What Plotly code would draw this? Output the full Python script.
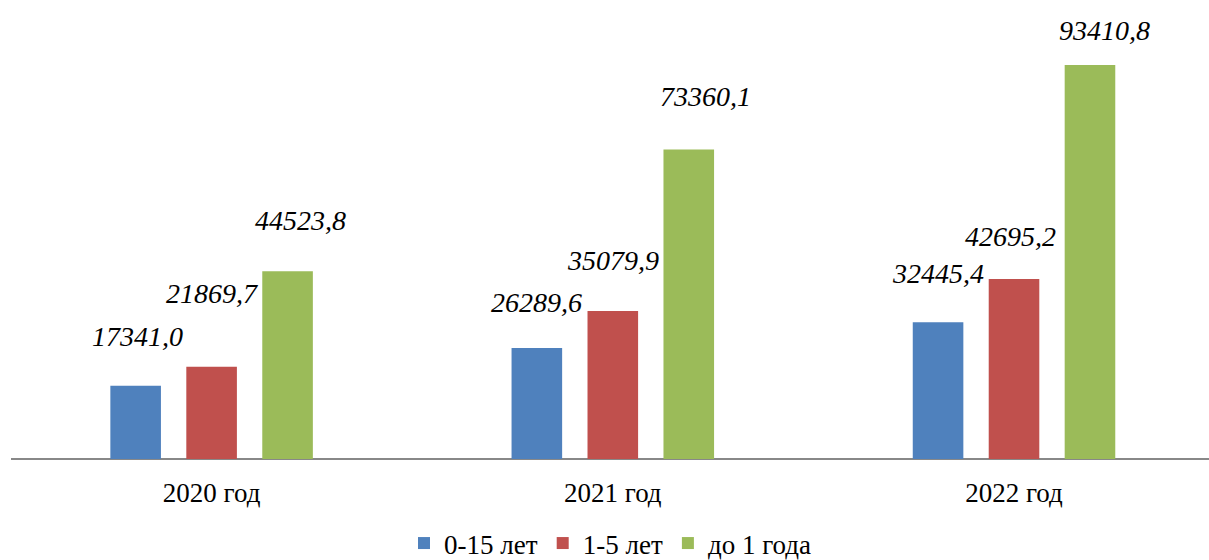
import plotly.graph_objects as go

categories = ["2020 год", "2021 год", "2022 год"]
series_names = ["0-15 лет", "1-5 лет", "до 1 года"]
vals_0_15 = [17341.0, 26289.6, 32445.4]
vals_1_5 = [21869.7, 35079.9, 42695.2]
vals_do1 = [44523.8, 73360.1, 93410.8]
label_0_15 = ["17341,0", "26289,6", "32445,4"]
label_1_5 = ["21869,7", "35079,9", "42695,2"]
label_do1 = ["44523,8", "73360,1", "93410,8"]

colors = ["#4F81BD", "#C0504D", "#9BBB59"]
all_vals = [vals_0_15, vals_1_5, vals_do1]
all_labels = [label_0_15, label_1_5, label_do1]

# label placement tweaks (pixels) per series / category
label_dx = [[2, 0, 0], [0, 0, -4], [13, 17, 14]]
label_dy = [[49, 46, 49], [73, 51, 42], [51, 53, 35]]

FONT = "Times New Roman, Liberation Serif, serif"
slot_px = 76

fig = go.Figure()
for i in range(3):
    fig.add_trace(go.Bar(
        x=categories, y=all_vals[i], name=series_names[i],
        marker=dict(color=colors[i], line=dict(width=0)),
    ))

annotations = []
for i in range(3):
    for j in range(3):
        annotations.append(dict(
            x=categories[j], y=all_vals[i][j], xref="x", yref="y",
            text=all_labels[i][j], showarrow=False,
            xshift=(i - 1) * slot_px + label_dx[i][j],
            yshift=label_dy[i][j], yanchor="middle", xanchor="center",
            font=dict(family=FONT, size=28, color="#000000", style="italic"),
        ))

px_per_unit = 394 / 93410.8
ymax = 459 / px_per_unit

fig.update_layout(
    width=1209, height=560,
    margin=dict(l=11, r=0, t=0, b=101),
    paper_bgcolor="white", plot_bgcolor="white",
    barmode="group", bargap=0.432, bargroupgap=0.334,
    annotations=annotations,
    font=dict(family=FONT, size=27, color="#000000"),
    legend=dict(
        orientation="h", x=0.5, xanchor="center",
        yref="container", y=1 - 519 / 560, yanchor="top",
        font=dict(family=FONT, size=27, color="#000000"),
        itemwidth=30, traceorder="normal",
    ),
    showlegend=True,
)
fig.update_xaxes(
    range=[-0.5, 2.486], showgrid=False, zeroline=False,
    showline=False, ticks="", tickfont=dict(family=FONT, size=27),
    ticklabelstandoff=15,
)
fig.update_yaxes(
    range=[0, ymax], showgrid=False, zeroline=True, zerolinecolor="#888888",
    zerolinewidth=2, showticklabels=False, showline=False, ticks="",
)

fig.write_html("out.html")
